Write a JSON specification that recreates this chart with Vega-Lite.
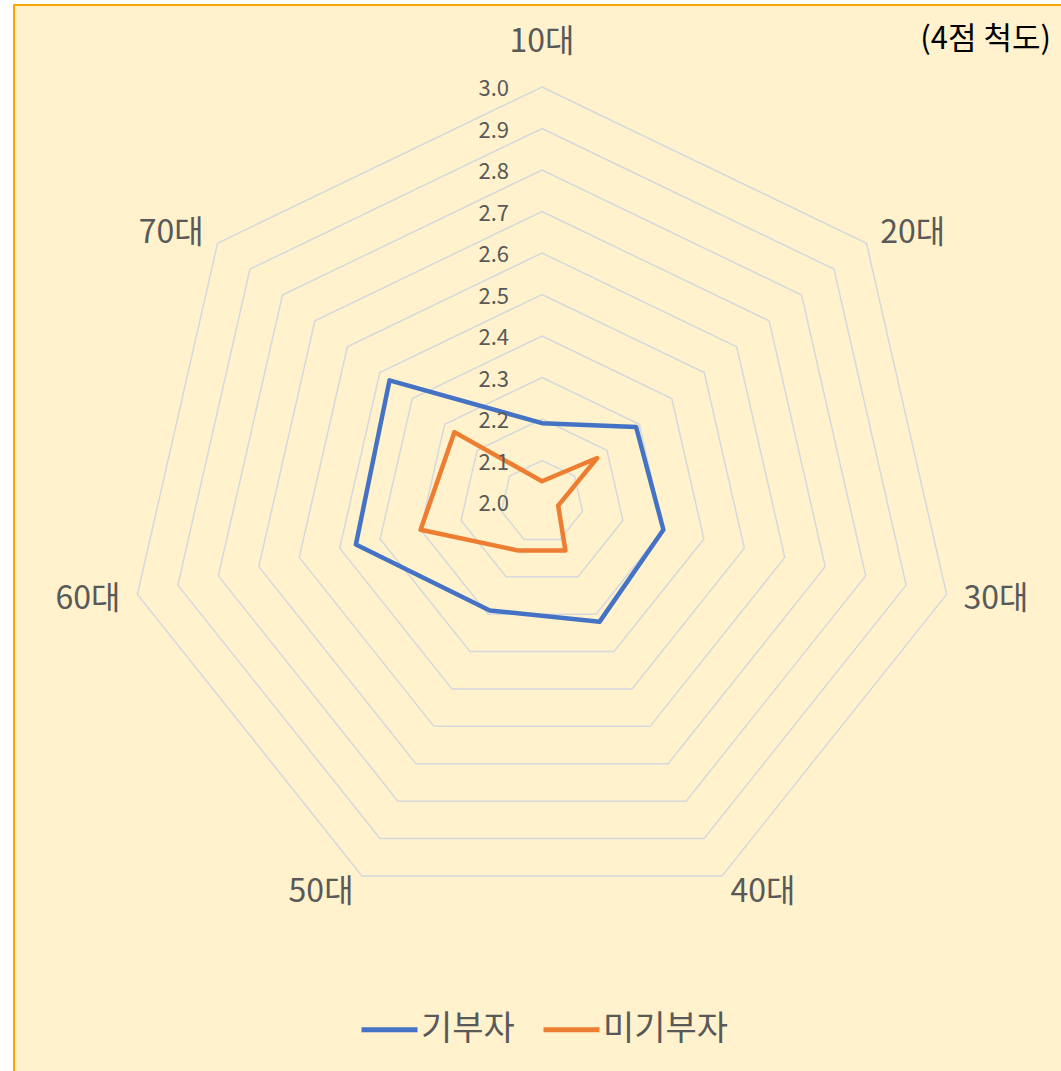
{
  "$schema": "https://vega.github.io/schema/vega-lite/v6.json",
  "width": 1060,
  "height": 1080,
  "autosize": "none",
  "padding": {"left": 14, "top": 5, "right": 0, "bottom": 0},
  "background": "white",
  "config": {
    "view": {"fill": "#FFF2CC", "stroke": "#FFA500", "strokeWidth": 2},
    "font": "Noto Sans CJK KR"
  },
  "datasets": {
    "scores": [
      {"group": "기부자", "age": "10대", "i": 0, "value": 2.19},
      {"group": "기부자", "age": "20대", "i": 1, "value": 2.29},
      {"group": "기부자", "age": "30대", "i": 2, "value": 2.30},
      {"group": "기부자", "age": "40대", "i": 3, "value": 2.32},
      {"group": "기부자", "age": "50대", "i": 4, "value": 2.29},
      {"group": "기부자", "age": "60대", "i": 5, "value": 2.46},
      {"group": "기부자", "age": "70대", "i": 6, "value": 2.47},
      {"group": "미기부자", "age": "10대", "i": 0, "value": 2.05},
      {"group": "미기부자", "age": "20대", "i": 1, "value": 2.17},
      {"group": "미기부자", "age": "30대", "i": 2, "value": 2.04},
      {"group": "미기부자", "age": "40대", "i": 3, "value": 2.13},
      {"group": "미기부자", "age": "50대", "i": 4, "value": 2.13},
      {"group": "미기부자", "age": "60대", "i": 5, "value": 2.30},
      {"group": "미기부자", "age": "70대", "i": 6, "value": 2.27}
    ],
    "rings": [
      {"level": 2.1, "i": [0, 1, 2, 3, 4, 5, 6]},
      {"level": 2.2, "i": [0, 1, 2, 3, 4, 5, 6]},
      {"level": 2.3, "i": [0, 1, 2, 3, 4, 5, 6]},
      {"level": 2.4, "i": [0, 1, 2, 3, 4, 5, 6]},
      {"level": 2.5, "i": [0, 1, 2, 3, 4, 5, 6]},
      {"level": 2.6, "i": [0, 1, 2, 3, 4, 5, 6]},
      {"level": 2.7, "i": [0, 1, 2, 3, 4, 5, 6]},
      {"level": 2.8, "i": [0, 1, 2, 3, 4, 5, 6]},
      {"level": 2.9, "i": [0, 1, 2, 3, 4, 5, 6]},
      {"level": 3.0, "i": [0, 1, 2, 3, 4, 5, 6]}
    ],
    "ticks": [
      {"level": 2.0, "label": "2.0"},
      {"level": 2.1, "label": "2.1"},
      {"level": 2.2, "label": "2.2"},
      {"level": 2.3, "label": "2.3"},
      {"level": 2.4, "label": "2.4"},
      {"level": 2.5, "label": "2.5"},
      {"level": 2.6, "label": "2.6"},
      {"level": 2.7, "label": "2.7"},
      {"level": 2.8, "label": "2.8"},
      {"level": 2.9, "label": "2.9"},
      {"level": 3.0, "label": "3.0"}
    ],
    "cats": [
      {"age": "10대", "i": 0},
      {"age": "20대", "i": 1},
      {"age": "30대", "i": 2},
      {"age": "40대", "i": 3},
      {"age": "50대", "i": 4},
      {"age": "60대", "i": 5},
      {"age": "70대", "i": 6}
    ],
    "note": [
      {"label": "(4점 척도)"}
    ]
  },
  "layer": [
    {
      "data": {"name": "rings"},
      "transform": [
        {"flatten": ["i"]},
        {"calculate": "(datum.level - 2) * sin(datum.i * 2 * PI / 7)", "as": "px"},
        {"calculate": "(datum.level - 2) * cos(datum.i * 2 * PI / 7)", "as": "py"}
      ],
      "mark": {"type": "line", "interpolate": "linear-closed", "stroke": "#D6D8DC", "strokeWidth": 1.5},
      "encoding": {
        "x": {"field": "px", "type": "quantitative", "scale": {"domain": [-1.2723, 1.2819], "nice": false, "zero": false}, "axis": null},
        "y": {"field": "py", "type": "quantitative", "scale": {"domain": [-1.4048, 1.1976], "nice": false, "zero": false}, "axis": null},
        "detail": {"field": "level", "type": "nominal"},
        "order": {"field": "i", "type": "quantitative"}
      }
    },
    {
      "data": {"name": "scores"},
      "transform": [
        {"calculate": "(datum.value - 2) * sin(datum.i * 2 * PI / 7)", "as": "px"},
        {"calculate": "(datum.value - 2) * cos(datum.i * 2 * PI / 7)", "as": "py"}
      ],
      "mark": {"type": "line", "interpolate": "linear-closed", "strokeWidth": 4.5, "strokeJoin": "round"},
      "encoding": {
        "x": {"field": "px", "type": "quantitative", "scale": {"domain": [-1.2723, 1.2819], "nice": false, "zero": false}, "axis": null},
        "y": {"field": "py", "type": "quantitative", "scale": {"domain": [-1.4048, 1.1976], "nice": false, "zero": false}, "axis": null},
        "color": {
          "field": "group",
          "type": "nominal",
          "scale": {"domain": ["기부자", "미기부자"], "range": ["#4472C4", "#ED7D31"]},
          "legend": {
            "orient": "none",
            "direction": "horizontal",
            "legendX": 345,
            "legendY": 994,
            "title": null,
            "symbolType": "stroke",
            "symbolSize": 3136,
            "symbolStrokeWidth": 5,
            "labelFontSize": 34,
            "labelFont": "Noto Sans CJK KR",
            "labelColor": "#595959",
            "labelOffset": 1,
            "columnPadding": 18,
            "padding": 0
          }
        },
        "detail": {"field": "group", "type": "nominal"},
        "order": {"field": "i", "type": "quantitative"}
      }
    },
    {
      "data": {"name": "ticks"},
      "transform": [
        {"calculate": "0", "as": "px"},
        {"calculate": "datum.level - 2", "as": "py"}
      ],
      "mark": {"type": "text", "align": "right", "baseline": "middle", "dx": -33, "dy": 2, "fontSize": 22, "color": "#595959", "font": "Noto Sans CJK KR"},
      "encoding": {
        "x": {"field": "px", "type": "quantitative", "scale": {"domain": [-1.2723, 1.2819], "nice": false, "zero": false}, "axis": null},
        "y": {"field": "py", "type": "quantitative", "scale": {"domain": [-1.4048, 1.1976], "nice": false, "zero": false}, "axis": null},
        "text": {"field": "label", "type": "nominal"}
      }
    },
    {
      "data": {"name": "cats"},
      "transform": [
        {"calculate": "sin(datum.i * 2 * PI / 7)", "as": "s"},
        {"calculate": "cos(datum.i * 2 * PI / 7)", "as": "c"},
        {"calculate": "abs(datum.s) > 0.1 ? datum.s * 1.0381 + (datum.s > 0 ? 0.0819 : -0.0819) : datum.s", "as": "px"},
        {"calculate": "abs(datum.s) > 0.1 ? datum.c * 1.0416 - 0.0013 : datum.c * 1.108", "as": "py"}
      ],
      "mark": {"type": "text", "align": "center", "baseline": "middle", "fontSize": 32, "color": "#595959", "font": "Noto Sans CJK KR"},
      "encoding": {
        "x": {"field": "px", "type": "quantitative", "scale": {"domain": [-1.2723, 1.2819], "nice": false, "zero": false}, "axis": null},
        "y": {"field": "py", "type": "quantitative", "scale": {"domain": [-1.4048, 1.1976], "nice": false, "zero": false}, "axis": null},
        "text": {"field": "age", "type": "nominal"}
      }
    },
    {
      "data": {"name": "note"},
      "mark": {"type": "text", "align": "right", "baseline": "middle", "fontSize": 31, "color": "#000000", "font": "Noto Sans CJK KR"},
      "encoding": {
        "x": {"datum": 1.2265, "type": "quantitative", "scale": {"domain": [-1.2723, 1.2819], "nice": false, "zero": false}, "axis": null},
        "y": {"datum": 1.113, "type": "quantitative", "scale": {"domain": [-1.4048, 1.1976], "nice": false, "zero": false}, "axis": null},
        "text": {"field": "label", "type": "nominal"}
      }
    }
  ]
}
